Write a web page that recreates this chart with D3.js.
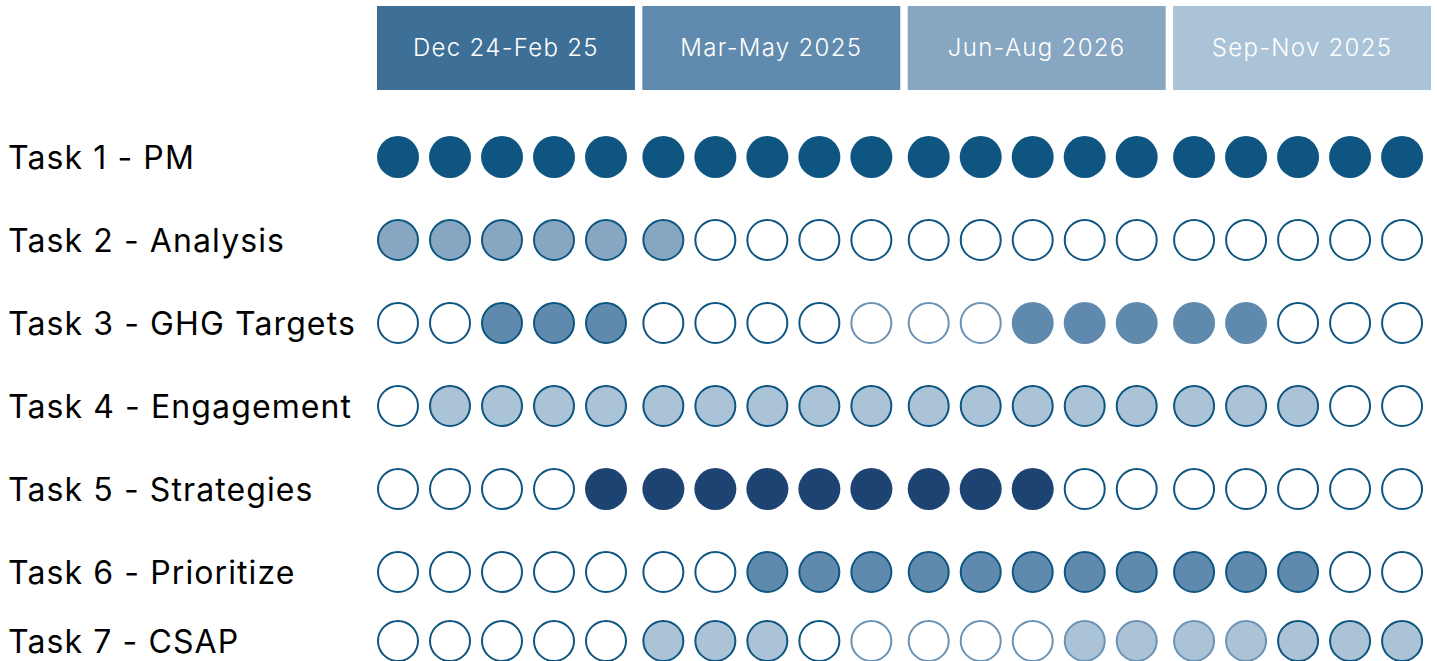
<!DOCTYPE html>
<html>
<head>
<meta charset="utf-8">
<script src="https://cdn.jsdelivr.net/npm/d3@7"></script>
<style>
  html, body { margin: 0; padding: 0; background: #fff; }
  svg { display: block; }
</style>
</head>
<body>
<svg id="plan"></svg>
<script>
// periods across the top
const periods = ["Dec 24-Feb 25", "Mar-May 2025", "Jun-Aug 2026", "Sep-Nov 2025"];
const periodColors = ["#3e6f96", "#618bae", "#87a6c1", "#abc3d7"];
const monthsPerPeriod = [0, 1, 2, 3, 4];

// tasks down the side
const tasks = ["Task 1 - PM", "Task 2 - Analysis", "Task 3 - GHG Targets", "Task 4 - Engagement",
               "Task 5 - Strategies", "Task 6 - Prioritize", "Task 7 - CSAP"];
const taskColors = ["#0e5581", "#87a6c1", "#5f8aad", "#abc3d7", "#1d4373", "#5f8aad", "#abc3d7"];

// one char per slot (20 slots):
// S = filled, no outline | F = filled, dark outline | f = filled, light outline
// O = empty, dark outline | o = empty, light outline
const task1 = "SSSSSSSSSSSSSSSSSSSS";
const task2 = "FFFFFFOOOOOOOOOOOOOO";
const task3 = "OOFFFOOOOoooSSSSSOOO";
const task4 = "OFFFFFFFFFFFFFFFFFOO";
const task5 = "OOOOSSSSSSSSSOOOOOOO";
const task6 = "OOOOOOOFFFFFFFFFFFOO";
const task7 = "OOOOOFFFOooooffffFFF";
const schedule = [task1, task2, task3, task4, task5, task6, task7];

const darkLine = "#0e5581";
const lightLine = "#6a93b5";

document.addEventListener('DOMContentLoaded', function () {
    const width = 1437, height = 661;

    const svg = d3.select('#plan')
        .attr("width", width)
        .attr("height", height);

    // x: period bands, then slots within a band
    const x = d3.scaleBand()
        .domain(periods)
        .range([377, 1431])
        .paddingInner(0.028);

    const slot = d3.scalePoint()
        .domain(monthsPerPeriod)
        .range([21, 229]);

    // y: rows (last row sits a bit tighter)
    const y = d3.scaleLinear()
        .domain([0, 5, 6])
        .range([157, 572, 641]);

    // header boxes
    const head = svg.append("g").selectAll("g")
        .data(periods)
        .join("g")
        .attr("transform", d => `translate(${x(d)},6)`);

    head.append("rect")
        .attr("width", x.bandwidth())
        .attr("height", 84)
        .attr("fill", (d, i) => periodColors[i]);

    head.append("text")
        .attr("x", x.bandwidth() / 2)
        .attr("y", 42)
        .attr("dy", "0.35em")
        .attr("text-anchor", "middle")
        .attr("fill", "#fff")
        .style("font-family", "Inter, 'Open Sans', sans-serif")
        .style("font-weight", 300)
        .style("font-size", "24px")
        .style("letter-spacing", "1.3px")
        .text(d => d);

    // task labels
    svg.append("g").selectAll("text")
        .data(tasks)
        .join("text")
        .attr("x", 8)
        .attr("y", (d, i) => y(i))
        .attr("dy", "0.36em")
        .attr("fill", "#000")
        .style("font-family", "Inter, 'Open Sans', sans-serif")
        .style("font-size", "32px")
        .style("letter-spacing", "1.1px")
        .text(d => d);

    // circles
    const cells = [];
    schedule.forEach(function (row, r) {
        row.split("").forEach(function (code, c) {
            cells.push({ row: r, period: periods[Math.floor(c / 5)], month: c % 5, code: code });
        });
    });

    svg.append("g").selectAll("circle")
        .data(cells)
        .join("circle")
        .attr("cx", d => x(d.period) + slot(d.month))
        .attr("cy", d => y(d.row))
        .attr("r", d => d.code === "S" ? 21 : 20)
        .attr("fill", d => "SFf".includes(d.code) ? taskColors[d.row] : "#fff")
        .attr("stroke", d => d.code === "S" ? "none" : ("fo".includes(d.code) ? lightLine : darkLine))
        .attr("stroke-width", 2);
});
</script>
</body>
</html>
